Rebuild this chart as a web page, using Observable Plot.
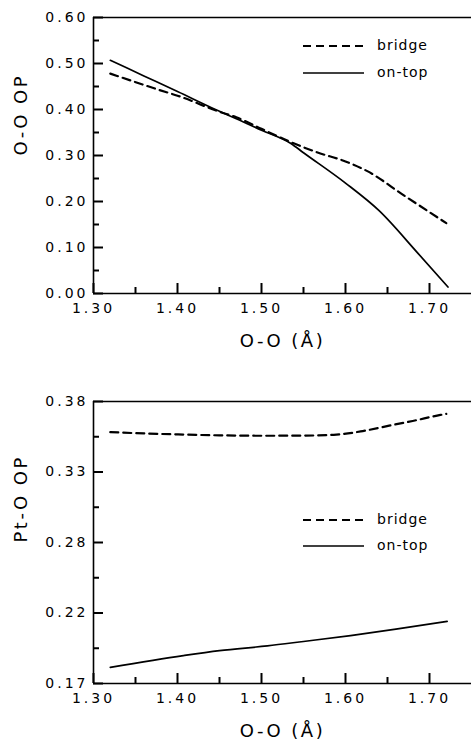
<!DOCTYPE html>
<html><head><meta charset="utf-8">
<script src="https://cdn.jsdelivr.net/npm/d3@7"></script>
<script src="https://cdn.jsdelivr.net/npm/@observablehq/plot@0.6"></script>
<style>
body{margin:0;background:#fff;}
#wrap{position:relative;width:471px;height:746px;overflow:hidden;font-family:"DejaVu Sans",sans-serif;}
.panel{position:absolute;left:0;}
.legend{position:absolute;left:0;top:0;pointer-events:none;}
</style></head><body><div id="wrap"></div>
<script>
// ---- data ----
const seriesNames = ["bridge", "on-top"];
const xDomain = [1.30, 1.75];
const xMajor = [1.30, 1.40, 1.50, 1.60, 1.70];
const xMinor = [1.35, 1.45, 1.55, 1.65];

// top panel: O-O overlap population
const topYDomain = [0.00, 0.60];
const topYMajor = [0.00, 0.10, 0.20, 0.30, 0.40, 0.50, 0.60];
const topYMinor = [0.05, 0.15, 0.25, 0.35, 0.45, 0.55];
const topBridgeX = [1.32, 1.386, 1.40, 1.45, 1.47, 1.50, 1.535, 1.566, 1.60, 1.626, 1.669, 1.72];
const topBridgeY = [0.478, 0.438, 0.430, 0.395, 0.383, 0.358, 0.329, 0.307, 0.287, 0.266, 0.214, 0.153];
const topOnTopX = [1.32, 1.36, 1.40, 1.45, 1.47, 1.50, 1.535, 1.55, 1.60, 1.64, 1.685, 1.722];
const topOnTopY = [0.507, 0.473, 0.439, 0.396, 0.380, 0.355, 0.326, 0.306, 0.240, 0.180, 0.090, 0.014];

// bottom panel: Pt-O overlap population
const botYDomain = [0.17, 0.38];
const botYMajor = [0.17, 0.2225, 0.275, 0.3275, 0.38];
const botYLabels = ["0.17", "0.22", "0.28", "0.33", "0.38"];
const botYMinor = [0.19625, 0.24875, 0.30125, 0.35375];
const botBridgeX = [1.32, 1.36, 1.40, 1.45, 1.50, 1.55, 1.586, 1.618, 1.652, 1.68, 1.713, 1.72];
const botBridgeY = [0.3572, 0.3562, 0.3555, 0.3548, 0.3545, 0.3546, 0.3552, 0.3577, 0.3620, 0.3655, 0.3700, 0.3708];
const botOnTopX = [1.32, 1.407, 1.45, 1.507, 1.55, 1.606, 1.66, 1.721];
const botOnTopY = [0.182, 0.1908, 0.1945, 0.198, 0.2013, 0.2057, 0.2105, 0.2163];

const toRows = (xs, ys, s) => xs.map((x, i) => ({x, y: ys[i], s}));

const FONT = "DejaVu Sans, sans-serif";
const tickFontStyle = "font-size:14px;letter-spacing:3px;";
const W = 471, ML = 93, MR = 0;

function panel({yDomain, yMajor, yMinor, yFormat, yTitle, bridge, ontop, height, marginTop, marginBottom}) {
  return Plot.plot({
    width: W,
    height,
    marginLeft: ML,
    marginRight: MR,
    marginTop,
    marginBottom,
    style: {fontFamily: FONT, fontSize: "14px", color: "#000", background: "white", overflow: "visible"},
    x: {domain: xDomain},
    y: {domain: yDomain},
    marks: [
      Plot.ruleY([yDomain[0]], {stroke: "#000", strokeWidth: 1.6}),
      Plot.ruleY([yDomain[1]], {stroke: "#000", strokeWidth: 1.6}),
      Plot.ruleX([xDomain[0]], {stroke: "#000", strokeWidth: 1.6}),
      Plot.axisX(xMajor, {tickSize: -10, tickPadding: 20, tickFormat: d => d.toFixed(2), label: null, fontSize: 14, stroke: "#000", strokeWidth: 2}),
      Plot.axisX(xMinor, {tickSize: -6, tickFormat: () => "", label: null, stroke: "#000", strokeWidth: 2}),
      Plot.axisY(yMajor, {tickSize: -10, tickPadding: 15, tickFormat: yFormat, label: null, fontSize: 14, stroke: "#000", strokeWidth: 2}),
      Plot.axisY(yMinor, {tickSize: -6, tickFormat: () => "", label: null, stroke: "#000", strokeWidth: 2}),
      Plot.line(bridge, {x: "x", y: "y", curve: "monotone-x", stroke: "#000", strokeWidth: 2.2, strokeDasharray: "8,5"}),
      Plot.line(ontop, {x: "x", y: "y", curve: "monotone-x", stroke: "#000", strokeWidth: 1.7}),
      Plot.text([yTitle], {frameAnchor: "left", dx: -72, rotate: -90, fontSize: 18, fill: "#000"}),
      Plot.text(["O-O (Å)"], {frameAnchor: "bottom", dy: 53, fontSize: 18, fill: "#000"})
    ]
  });
}

const topPanel = panel({
  yDomain: topYDomain, yMajor: topYMajor, yMinor: topYMinor,
  yFormat: d => d.toFixed(2), yTitle: "O-O OP",
  bridge: toRows(topBridgeX, topBridgeY, seriesNames[0]),
  ontop: toRows(topOnTopX, topOnTopY, seriesNames[1]),
  height: 370, marginTop: 17, marginBottom: 77
});
const botPanel = panel({
  yDomain: botYDomain, yMajor: botYMajor, yMinor: botYMinor,
  yFormat: (d) => botYLabels[botYMajor.indexOf(d)], yTitle: "Pt-O OP",
  bridge: toRows(botBridgeX, botBridgeY, seriesNames[0]),
  ontop: toRows(botOnTopX, botOnTopY, seriesNames[1]),
  height: 376, marginTop: 31, marginBottom: 63
});

const wrap = document.getElementById("wrap");
topPanel.classList.add("panel"); topPanel.style.top = "0px";
botPanel.classList.add("panel"); botPanel.style.top = "370px";
wrap.appendChild(topPanel);
wrap.appendChild(botPanel);

// tick label letter spacing
wrap.querySelectorAll("g[aria-label='x-axis tick label'] text, g[aria-label='y-axis tick label'] text").forEach(t => t.setAttribute("style", tickFontStyle));
wrap.querySelectorAll("g[aria-label='text'] text").forEach(t => t.style.letterSpacing = "2.5px");

// legends
function legend(yBridge, yOnTop) {
  const ns = "http://www.w3.org/2000/svg";
  const svg = document.createElementNS(ns, "svg");
  svg.setAttribute("width", 471); svg.setAttribute("height", 746);
  svg.setAttribute("class", "legend");
  [[yBridge, seriesNames[0], "8,5", 2.2], [yOnTop, seriesNames[1], null, 1.7]].forEach(([y, name, dash, sw]) => {
    const l = document.createElementNS(ns, "line");
    l.setAttribute("x1", 303); l.setAttribute("x2", 364);
    l.setAttribute("y1", y); l.setAttribute("y2", y);
    l.setAttribute("stroke", "#000"); l.setAttribute("stroke-width", sw);
    if (dash) l.setAttribute("stroke-dasharray", dash);
    svg.appendChild(l);
    const t = document.createElementNS(ns, "text");
    t.setAttribute("x", 377); t.setAttribute("y", y);
    t.setAttribute("dy", "0.32em");
    t.setAttribute("font-family", FONT); t.setAttribute("font-size", 14);
    t.setAttribute("style", "letter-spacing:1px");
    t.textContent = name;
    svg.appendChild(t);
  });
  return svg;
}
wrap.appendChild(legend(46, 73));
wrap.appendChild(legend(520, 546));
</script>
</body></html>
